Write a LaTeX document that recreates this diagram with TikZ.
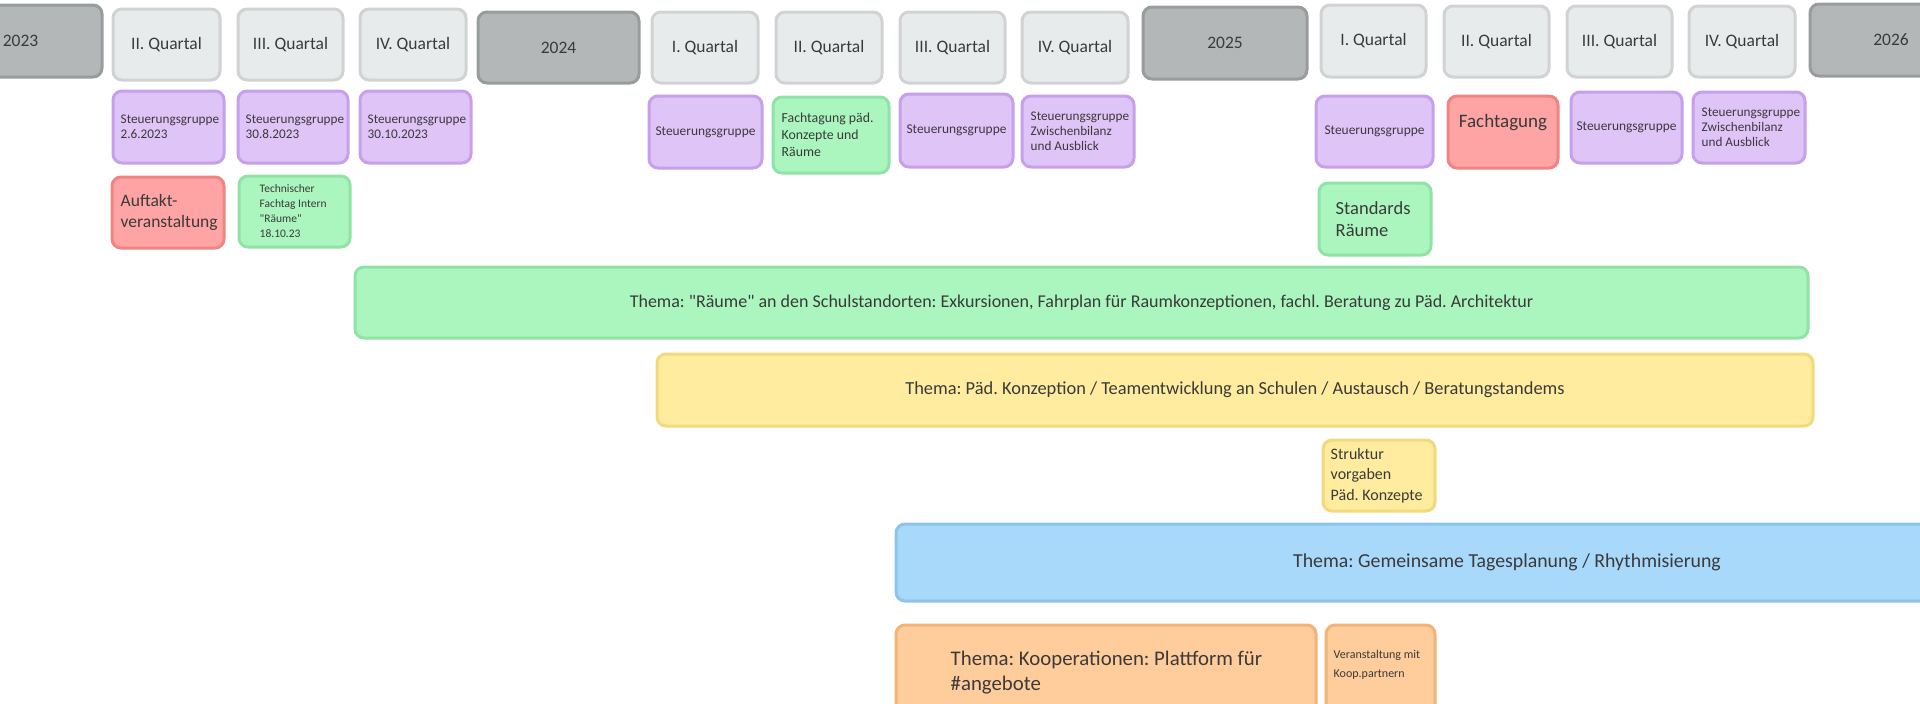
\documentclass[tikz,border=0pt]{standalone}
\usepackage{fontspec}
\setmainfont{Carlito}[Ligatures=TeXOff]
\frenchspacing
\definecolor{txt}{HTML}{3A3A3A}
\definecolor{yearf}{HTML}{B4B7B7}\definecolor{yearb}{HTML}{999C9C}
\definecolor{qf}{HTML}{E8EBEC}\definecolor{qb}{HTML}{D0D2D3}
\definecolor{purf}{HTML}{DFC4F7}\definecolor{purb}{HTML}{C6A0EA}
\definecolor{grnf}{HTML}{ABF6BE}\definecolor{grnb}{HTML}{90E2A6}
\definecolor{redf}{HTML}{FFA4A4}\definecolor{redb}{HTML}{F08384}
\definecolor{yelf}{HTML}{FFEC9E}\definecolor{yelb}{HTML}{F2D97B}
\definecolor{bluf}{HTML}{A8D9FA}\definecolor{blub}{HTML}{8DC4EC}
\definecolor{orgf}{HTML}{FFCD9B}\definecolor{orgb}{HTML}{F3B277}
\tikzset{
  card/.style={line width=3pt, rounded corners=9pt, text=txt, inner sep=0pt},
  yearbox/.style={card, draw=yearb, fill=yearf, font=\fontsize{17.5}{21}\selectfont},
  qbox/.style={card, draw=qb, fill=qf, font=\fontsize{17.5}{21}\selectfont},
  purbox/.style={card, draw=purb, fill=purf, font=\fontsize{13.4}{16}\selectfont},
  grnbox/.style={card, draw=grnb, fill=grnf},
  redbox/.style={card, draw=redb, fill=redf},
  yelbox/.style={card, draw=yelb, fill=yelf},
  blubox/.style={card, draw=blub, fill=bluf},
  orgbox/.style={card, draw=orgb, fill=orgf},
  label/.style={anchor=west, align=left, inner sep=0pt, text=txt},
  small/.style={font=\fontsize{13.2}{15}\selectfont},
}
% centered box: name, style, x1, y1, x2, y2, text
\newcommand\cbx[7]{%
  \pgfmathsetmacro\bw{#5-#3}\pgfmathsetmacro\bh{#6-#4}%
  \node[#2, minimum width=\bw pt, minimum height=\bh pt, align=center] (#1) at ({(#3+#5)/2},{(#4+#6)/2}) {#7};}
% box with left aligned text: name, style, x1, y1, x2, y2, pad, text options, text
\newcommand\lbx[9]{%
  \pgfmathsetmacro\bw{#5-#3}\pgfmathsetmacro\bh{#6-#4}%
  \node[#2, minimum width=\bw pt, minimum height=\bh pt] (#1) at ({(#3+#5)/2},{(#4+#6)/2}) {};
  \node[label, #8] (#1-t) at ([xshift=#7pt]#1.west) {#9};}
\begin{document}
\begin{tikzpicture}[x=1pt,y=-1pt]
\useasboundingbox (0,0) rectangle (1920,704);
% header row
\cbx{y23}{yearbox}{-61}{5}{102}{77}{2023}
\cbx{q2a}{qbox}{113}{9}{220}{80}{II. Quartal}
\cbx{q3a}{qbox}{238}{9}{343}{80}{III. Quartal}
\cbx{q4a}{qbox}{360}{9}{466}{80}{IV. Quartal}
\cbx{y24}{yearbox}{478}{12}{639}{83}{2024}
\cbx{q1b}{qbox}{652}{12}{758}{83}{I. Quartal}
\cbx{q2b}{qbox}{776}{12}{882}{83}{II. Quartal}
\cbx{q3b}{qbox}{900}{12}{1005}{83}{III. Quartal}
\cbx{q4b}{qbox}{1022}{12}{1128}{83}{IV. Quartal}
\cbx{y25}{yearbox}{1143}{7}{1307}{79}{2025}
\cbx{q1c}{qbox}{1321}{5}{1426}{77}{I. Quartal}
\cbx{q2c}{qbox}{1444}{6}{1549}{77}{II. Quartal}
\cbx{q3c}{qbox}{1567}{6}{1672}{77}{III. Quartal}
\cbx{q4c}{qbox}{1689}{6}{1795}{77}{IV. Quartal}
\cbx{y26}{yearbox}{1810}{4}{1972}{76}{2026}
% second row
\lbx{s1}{purbox}{113}{91}{224}{163}{9}{small}{Steuerungsgruppe\\2.6.2023}
\lbx{s2}{purbox}{238}{91}{348}{163}{9}{small}{Steuerungsgruppe\\30.8.2023}
\lbx{s3}{purbox}{360}{91}{471}{163}{9}{small}{Steuerungsgruppe\\30.10.2023}
\cbx{s4}{purbox}{649}{96}{762}{168}{Steuerungsgruppe}
\lbx{f1}{grnbox}{773}{97}{889}{173}{10}{font=\fontsize{13.8}{17}\selectfont}{Fachtagung päd.\\Konzepte und\\Räume}
\cbx{s5}{purbox}{900}{94}{1013}{167}{Steuerungsgruppe}
\lbx{s6}{purbox}{1022}{96}{1134}{167}{10}{small}{Steuerungsgruppe\\Zwischenbilanz\\und Ausblick}
\cbx{s7}{purbox}{1316}{96}{1433}{167}{Steuerungsgruppe}
\cbx{f2}{redbox}{1448}{96}{1558}{168}{}
\node[text=txt, inner sep=0pt, font=\fontsize{19}{22}\selectfont] (f2-t) at ([yshift=9pt]f2.center) {Fachtagung};
\cbx{s8}{purbox}{1571}{92}{1682}{163}{Steuerungsgruppe}
\lbx{s9}{purbox}{1693}{92}{1805}{163}{10}{small}{Steuerungsgruppe\\Zwischenbilanz\\und Ausblick}
% third row
\lbx{auf}{redbox}{112}{177}{224}{248}{10}{font=\fontsize{17.5}{21}\selectfont}{Auftakt-\\veranstaltung}
\lbx{tech}{grnbox}{239}{176}{350}{247}{22}{font=\fontsize{11.5}{15}\selectfont}{Technischer\\Fachtag Intern\\"Räume"\\18.10.23}
\lbx{std}{grnbox}{1319}{183}{1431}{255}{18}{font=\fontsize{18.5}{22}\selectfont}{Standards\\Räume}
% theme bars
\cbx{raeume}{grnbox, font=\fontsize{18}{22}\selectfont}{355}{267}{1808}{338}{Thema: "Räume" an den Schulstandorten: Exkursionen, Fahrplan für Raumkonzeptionen, fachl. Beratung zu Päd. Architektur}
\cbx{paed}{yelbox, font=\fontsize{18.4}{22}\selectfont}{657}{354}{1813}{426}{Thema: Päd. Konzeption / Teamentwicklung an Schulen / Austausch / Beratungstandems}
\lbx{struk}{yelbox}{1323}{440}{1435}{511}{9}{font=\fontsize{16}{20.5}\selectfont}{Struktur\\vorgaben\\Päd. Konzepte}
\cbx{tages}{blubox, font=\fontsize{19.8}{24}\selectfont}{896}{524}{2118}{601}{Thema: Gemeinsame Tagesplanung / Rhythmisierung}
\lbx{koop}{orgbox}{896}{625}{1316}{720}{56}{font=\fontsize{20.8}{25}\selectfont}{Thema: Kooperationen: Plattform für\\\#angebote}
\lbx{veran}{orgbox}{1326}{625}{1435}{720}{9}{font=\fontsize{12}{19}\selectfont, yshift=7.5pt}{Veranstaltung mit\\Koop.partnern}
\end{tikzpicture}
\end{document}
